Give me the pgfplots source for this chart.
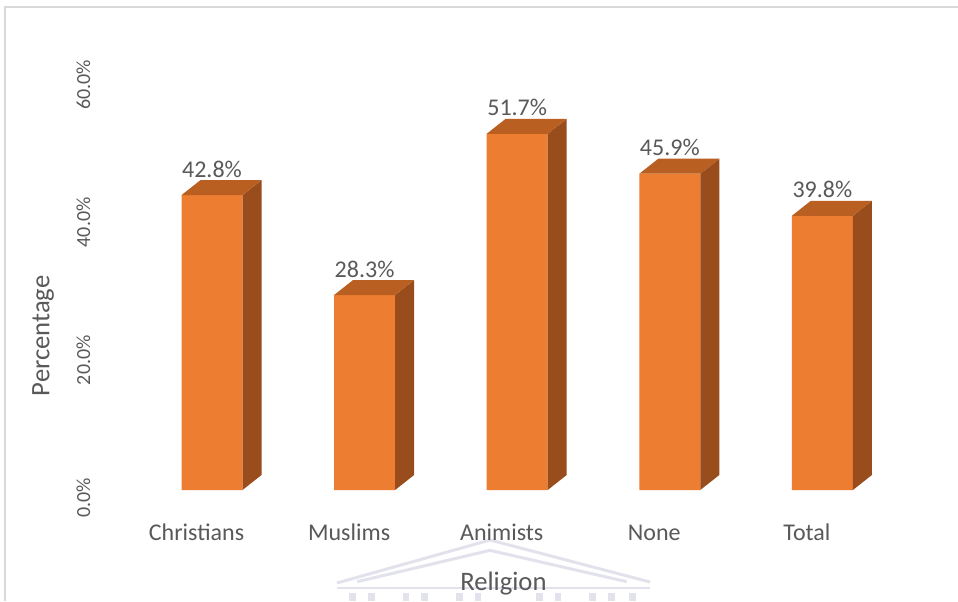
\documentclass[border=0pt]{standalone}
\usepackage{pgfplots}
\pgfplotsset{compat=1.18}
\usepackage{pgfplotstable}
\usepackage{fontspec}
\setmainfont{Carlito}
\definecolor{barfront}{HTML}{ED7D31}
\definecolor{bartop}{HTML}{B95F22}
\definecolor{barside}{HTML}{9A4D1C}
\definecolor{txt}{HTML}{595959}
\definecolor{framec}{HTML}{D9D9D9}
\definecolor{wm}{HTML}{E2E2EC}
\pgfplotstableread{
x val
0 42.8
1 28.3
2 51.7
3 45.9
4 39.8
}\religiondata
% unit vertices of the 3D faces: x = i + sx*halfwidth + fd*depthx, y = fh*value + fd*depthy
\pgfplotstableread{
sx fd fh
-1 0 1
1 0 1
1 1 1
-1 1 1
}\topverts
\pgfplotstableread{
sx fd fh
1 0 0
1 1 0
1 1 1
1 0 1
}\sideverts
\begin{document}
\begin{tikzpicture}
\useasboundingbox (0,0) rectangle (718.5pt,450.75pt);
\fill[white] (0,0) rectangle (718.5pt,450.75pt);
\draw[framec, line width=1.5pt] (3.75pt,0pt) -- (3.75pt,445.5pt) -- (718.5pt,445.5pt);
% faint watermark (logo)
\begin{scope}[wm, line width=2.2pt]
\draw (252.75pt,13.5pt) -- (367.5pt,45.75pt) -- (487.5pt,14.25pt);
\draw (268pt,14.5pt) -- (367.5pt,38pt) -- (470pt,14.5pt);
\draw (252.75pt,9.75pt) -- (487.5pt,9.75pt);
\foreach \cx in {262,276,302,316,342,356,402,416,442,456,472}{
  \fill (\cx pt,0pt) rectangle ++(5pt,6pt);
}
\end{scope}
\begin{axis}[
  at={(44.55pt,83.25pt)}, anchor=south west,
  x=114.45pt, y=5.1675pt,
  xmin=-1, xmax=4.8, ymin=0, ymax=60,
  axis line style={draw=none},
  major tick length=0pt,
  xtick={0,1,2,3,4},
  xticklabels={Christians,Muslims,Animists,None,Total},
  ytick={0,20,40,60},
  yticklabels={0.0\%,20.0\%,40.0\%,60.0\%},
  xticklabel style={anchor=base, xshift=-11.6pt, yshift=-37.5pt, font=\fontsize{18}{20}\selectfont, text=txt},
  yticklabel style={xshift=18pt, yshift=-6pt, rotate=90, anchor=center, font=\fontsize{15}{18}\selectfont, text=txt},
  xlabel={Religion},
  ylabel={Percentage},
  xlabel style={at={(axis description cs:0.5017,-0.242)}, anchor=base, font=\fontsize{20}{24}\selectfont, text=txt},
  ylabel style={at={(axis description cs:-0.0185,0.373)}, anchor=center, font=\fontsize{20}{24}\selectfont, text=txt},
  clip=false,
  /pgf/number format/assume math mode=true,
]
% front faces
\addplot[ybar, bar width=45.75pt, bar shift=0pt, fill=barfront, draw=none]
  table[x=x,y=val] {\religiondata};
% top and side faces of each bar, from its value
\pgfplotsinvokeforeach{0,1,2,3,4}{
  \pgfplotstablegetelem{#1}{val}\of\religiondata
  \edef\curval{\pgfplotsretval}
  \addplot[fill=barside, draw=none, mark=none, forget plot]
    table[x expr={#1+\thisrow{sx}*0.19987+\thisrow{fd}*0.1245},
          y expr={\thisrow{fh}*\curval+\thisrow{fd}*2.177}] {\sideverts};
  \addplot[fill=bartop, draw=none, mark=none, forget plot]
    table[x expr={#1+\thisrow{sx}*0.19987+\thisrow{fd}*0.1245},
          y expr={\thisrow{fh}*\curval+\thisrow{fd}*2.177}] {\topverts};
}
% data labels
\addplot[draw=none, mark=none,
  nodes near coords={\pgfmathprintnumber[fixed,fixed zerofill,precision=1]{\pgfplotspointmeta}\%},
  nodes near coords style={anchor=center, yshift=19.5pt, font=\fontsize{18}{20}\selectfont, text=txt},
] table[x=x,y=val] {\religiondata};
\end{axis}
\end{tikzpicture}
\end{document}
